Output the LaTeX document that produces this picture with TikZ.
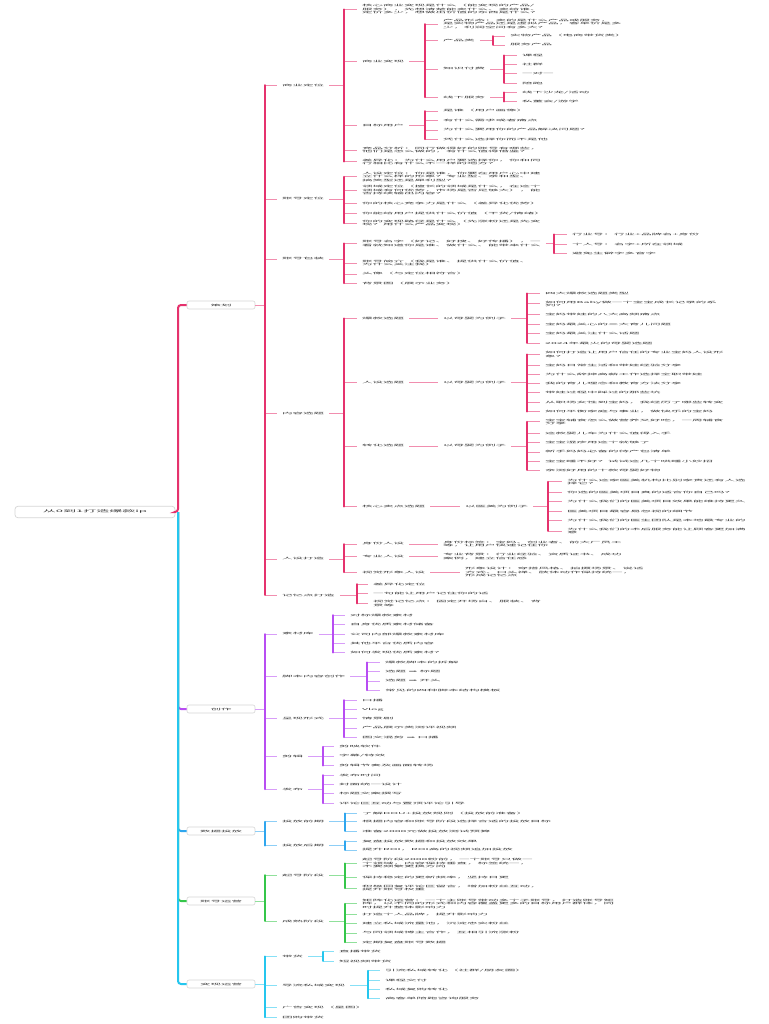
\documentclass[tikz,border=0pt]{standalone}
\usepackage{fontspec}
\newfontfamily\cjk{Noto Sans CJK SC}
\newfontfamily\symf{DejaVu Sans}
\definecolor{txtc}{HTML}{333333}
\definecolor{pk}{HTML}{E5326D}
\definecolor{pu}{HTML}{B84DF2}
\definecolor{bl}{HTML}{2FA6EE}
\definecolor{gr}{HTML}{35C64A}
\definecolor{cy}{HTML}{25C6EE}
\definecolor{boxc}{HTML}{D6D6D6}
\newcommand\mmkids[6]{%
  \coordinate (#1bar) at (#2,0);
  \draw[#3link] (#1.east) -- (#1bar |- #1.east);
  \foreach \kk in {#6}{\draw[#3link] (#1bar |- \kk.west) -- (\kk.west);}
  \draw[#3bar] (#1bar |- #4.west) -- (#1bar |- #5.west);
}
\tikzset{
  every node/.style={transform shape},
  txt/.style={anchor=west, inner xsep=5pt, inner ysep=3pt, align=left, text=txtc, font=\cjk\fontsize{10.5}{13.5}\selectfont},
  l1/.style={draw=boxc, line width=0.6pt, fill=white, rounded corners=2pt, minimum width=68pt, minimum height=32pt, inner sep=0pt, text=txtc, font=\cjk\fontsize{10.5}{13.5}\selectfont},
  rootbox/.style={draw=boxc, line width=0.7pt, fill=white, rounded corners=3pt, minimum width=160pt, minimum height=46pt, inner sep=0pt, text=txtc, font=\cjk\fontsize{13}{16}\selectfont},
  plink/.style={draw=pk!55, line width=0.8pt},
  pbar/.style={draw=pk, line width=1.5pt, line cap=round},
  ulink/.style={draw=pu!55, line width=0.8pt},
  ubar/.style={draw=pu, line width=1.5pt, line cap=round},
  blink/.style={draw=bl!55, line width=0.8pt},
  bbar/.style={draw=bl, line width=1.5pt, line cap=round},
  glink/.style={draw=gr!55, line width=0.8pt},
  gbar/.style={draw=gr, line width=1.5pt, line cap=round},
  clink/.style={draw=cy!55, line width=0.8pt},
  cbar/.style={draw=cy, line width=1.5pt, line cap=round},
  trunkline/.style={line width=2pt, rounded corners=3pt},
}
\begin{document}
\begin{tikzpicture}[x=1pt,y=-4pt,yscale=0.25]
\useasboundingbox (0,0) rectangle (768,1024);
\fill[white] (0,0) rectangle (768,1024);

% ---------- root and level 1
\node[rootbox] (root) at (95,512) {从0到1打造爆款ip};
\node[l1] (ch) at (221,305) {策划};
\node[l1] (cz) at (221,709) {创作};
\node[l1] (sj) at (221,831) {数据投放};
\node[l1] (zy) at (221,901) {账号运营};
\node[l1] (bxy) at (221,984) {变现运营};

% ---------- 策划
\node[txt] (sy) at (277,85) {商业定位};
\node[txt] (zd) at (277,199) {账号定位};
\node[txt] (zb) at (277,259) {账号包装};
\node[txt] (nr) at (277,413.3) {内容选题};
\node[txt] (rs) at (277,559) {人设打造};
\node[txt] (jy) at (277,595) {记忆点打造};

% 商业定位
\node[txt] (sy1) at (357,9.3) {核心商业变现是什么（能变现的产品/\\服务），先想清楚能卖什么、卖给谁、\\定价多少，想做出价值的东西是什么？};
\node[txt] (sy2) at (357,61.7) {商业变现};
\node[txt] (sy3) at (357,125.7) {目标用户};
\node[txt] (sy4) at (357,150) {竞品分析：同行做得好的账号有哪些，\\他们是怎么做的，有什么值得借鉴？};
\node[txt] (sy5) at (357,161.7) {差异化：为什么用户要选择你，你和同\\行相比有什么不一样的地方？};

% 商业变现
\node[txt] (sb1) at (438,24) {产品形态：卖的是什么产品或服务，\\是实物产品还是虚拟产品，客单价是多\\少，利润空间有多大？};
\node[txt] (sb2) at (438,40.7) {产品类};
\node[txt] (sb3) at (438,69) {知识付费};
\node[txt] (sb4) at (438,97.3) {线下服务};
\node[txt] (sb2a) at (505,36) {实物产品（电商带货类）};
\node[txt] (sb2b) at (505,45) {服务产品};
\node[txt] (sb3a) at (517,55.3) {课程};
\node[txt] (sb3b) at (517,64.3) {社群};
\node[txt] (sb3c) at (517,73.7) {一对一};
\node[txt] (sb3d) at (517,83) {陪跑};
\node[txt] (sb4a) at (517,92.3) {线下沙龙/活动};
\node[txt] (sb4b) at (517,101.7) {私董会/游学};

% 目标用户
\node[txt] (mu1) at (438,111) {是谁（用户画像）};
\node[txt] (mu2) at (438,120.7) {有什么需求或者痛点};
\node[txt] (mu3) at (438,130) {为什么要用你的产品解决问题？};
\node[txt] (mu4) at (438,139.3) {凭什么选择你而不是他};

% 账号定位
\node[txt] (zd1) at (357,176.7) {人设定位：你是谁，你要在用户心中建\\立什么样的形象？专业型、亲和型、\\搞笑型还是犀利型？};
\node[txt] (zd2) at (357,190) {领域定位（擅长的领域是什么，在这个\\领域有何优势，市场是否足够大），能\\否持续输出内容？};
\node[txt] (zd3) at (357,203.3) {你的核心竞争力是什么（差异化优势）};
\node[txt] (zd4) at (357,213.3) {你能给用户提供什么价值（干货/情绪）};
\node[txt] (zd5) at (357,223.3) {你的变现路径是什么（先涨粉还是先变\\现？用什么产品变现）};

% 账号包装
\node[txt] (zb1) at (357,243.3) {账号名字（好记、好搜、好传播），一\\看就知道你是谁、做什么、能带来什么};
\node[txt] (zb2) at (357,263.3) {账号简介（我是谁、提供什么价值、\\为什么关注我）};
\node[txt] (zb3) at (357,274) {头像（与定位相符合）};
\node[txt] (zb4) at (357,283.3) {背景图（展示业务）};
\node[txt] (zb1a) at (567,234.3) {行业号：行业+品牌名+身份};
\node[txt] (zb1b) at (567,244) {个人号：名字+所在领域};
\node[txt] (zb1c) at (567,253.3) {避免生僻字多音字};

% 内容选题
\node[txt] (nr1) at (357,318.3) {爆款选题};
\node[txt] (nr2) at (357,382.3) {人设选题};
\node[txt] (nr3) at (357,446) {转化选题};
\node[txt] (nr4) at (357,506.7) {核心卖点选题};
\node[txt] (ex1) at (438,318.3) {以母婴为例子};
\node[txt] (ex2) at (438,382.3) {以母婴为例子};
\node[txt] (ex3) at (438,446) {以母婴为例子};
\node[txt] (ex4) at (460,506.7) {以医美为例子};

\node[txt] (e1a) at (540,293.3) {四大爆款选题类型};
\node[txt] (e1b) at (540,303.7) {如何用Baby做一个宝宝成长记录的系\\列？};
\node[txt] (e1c) at (540,314) {宝妈带娃的八大高频痛点};
\node[txt] (e1d) at (540,324.3) {宝妈最关心的三大育儿问题};
\node[txt] (e1e) at (540,333.7) {宝妈最关注什么话题};
\node[txt] (e1f) at (540,343) {2024年最火的母婴选题};

\node[txt] (e2a) at (540,354.3) {如何打造让用户信任的专业宝妈人设形\\象？};
\node[txt] (e2b) at (540,365) {宝妈日常生活和带娃经验分享};
\node[txt] (e2c) at (540,374.3) {为什么辞掉高薪工作选择全职带娃};
\node[txt] (e2d) at (540,383.3) {我的育儿理念和教育方法分享};
\node[txt] (e2e) at (540,392.7) {带娃过程中踩过的那些坑};
\node[txt] (e2f) at (540,402.3) {从职场女性到宝妈，我经历了哪些转变};
\node[txt] (e2g) at (540,411.7) {如何平衡家庭与事业，做快乐的宝妈};

\node[txt] (e3a) at (540,421.7) {宝宝辅食怎么做营养又好吃，一周辅食\\分享};
\node[txt] (e3b) at (540,433.3) {这款婴儿车为什么值得入手};
\node[txt] (e3c) at (540,442.7) {宝宝湿疹用这个就够了};
\node[txt] (e3d) at (540,452) {新手妈妈必备的待产包清单};
\node[txt] (e3e) at (540,461) {宝宝睡不好？试试这几个哄睡小妙招};
\node[txt] (e3f) at (540,470) {亲测好用的十款母婴好物};

\node[txt] (e4a) at (562,481.7) {为什么这家医美机构比别家贵还有人选\\择它？};
\node[txt] (e4b) at (562,492.3) {你选的医美项目真的适合你自己吗？};
\node[txt] (e4c) at (562,501.7) {为什么我们的医美项目效果能维持更久};
\node[txt] (e4d) at (562,511) {医美项目最容易忽视的细节};
\node[txt] (e4e) at (562,520) {为什么我们的医生团队是本地最专业的};
\node[txt] (e4f) at (562,531) {为什么我们的术后服务能让顾客更加满\\意};

% 人设打造
\node[txt] (rs1) at (357,544) {身份人设};
\node[txt] (rs2) at (357,556.7) {专业人设};
\node[txt] (rs3) at (357,572.3) {视觉形象人设};
\node[txt] (rs1a) at (438,544) {身份标签：宝妈、创业者、前大厂员工\\等，让用户快速记住你};
\node[txt] (rs2a) at (438,556.7) {专业背景：行业经验、资质证书、成功\\案例，建立信任感};
\node[txt] (rs3a) at (460,572.3) {形象设计：穿搭风格、拍摄场景、说话\\方式、口头禅、肢体动作保持统一，\\形成记忆点};

% 记忆点打造
\node[txt] (jy1) at (368,584) {差异化定位};
\node[txt] (jy2) at (368,593.3) {一句能让用户记住你的话};
\node[txt] (jy3) at (368,603.5) {视觉记忆点：固定开场白、服装、背\\景等};

% ---------- 创作
\node[txt] (c1) at (277,634) {素材库};
\node[txt] (c2) at (277,676.7) {脚本内容创作};
\node[txt] (c3) at (277,718.3) {呈现形式};
\node[txt] (c4) at (277,756.7) {剪辑};
\node[txt] (c5) at (277,789.3) {发布};

\node[txt] (c1a) at (345,615) {对标爆款素材};
\node[txt] (c1b) at (345,624.3) {自身优质素材储备};
\node[txt] (c1c) at (345,634) {公司内部爆款素材库};
\node[txt] (c1d) at (345,643.3) {其他平台优质内容};
\node[txt] (c1e) at (345,652.7) {如何发现优质素材？};

\node[txt] (c2a) at (380,662.3) {爆款脚本的拆解};
\node[txt] (c2b) at (380,671.7) {选题 {\symf ➡} 标题};
\node[txt] (c2c) at (380,681) {选题 {\symf ➡} 开头};
\node[txt] (c2d) at (380,690.3) {常见的四种脚本结构模板};

\node[txt] (c3a) at (357,700) {口播};
\node[txt] (c3b) at (357,709.3) {Vlog};
\node[txt] (c3c) at (357,718.3) {情景剧};
\node[txt] (c3d) at (357,728) {产品展示类测评视频};
\node[txt] (c3e) at (357,737.3) {图文混剪 {\symf ➡} 口播};

\node[txt] (c4a) at (334,746.7) {剪映软件};
\node[txt] (c4b) at (334,756) {字幕/特效};
\node[txt] (c4c) at (334,765.7) {剪辑节奏及画面转场};

\node[txt] (c5a) at (334,775) {发布时间};
\node[txt] (c5b) at (334,784.3) {封面统一设计};
\node[txt] (c5c) at (334,793.7) {标题文案撰写};
\node[txt] (c5d) at (334,803.3) {评论区互动与置顶评论引导};

% ---------- 数据投放
\node[txt] (s1) at (277,821.7) {投放前期};
\node[txt] (s2) at (277,845.7) {投放后期};
\node[txt] (s1a) at (357,813.3) {了解DOU+投放规则（投放前准备）};
\node[txt] (s1b) at (357,821.7) {根据内容和账号阶段选择合适的投放目标};
\node[txt] (s1c) at (357,831) {准备2000元做投放测试预算};
\node[txt] (s2a) at (357,841) {复盘投放数据和投放效果};
\node[txt] (s2b) at (357,850) {提升ROI，ROI高的视频追加投放};

% ---------- 账号运营
\node[txt] (z1) at (277,875) {起号阶段};
\node[txt] (z2) at (277,921) {成熟阶段};
\node[txt] (z1a) at (357,863.3) {起号阶段2000粉前，一个账号只做一\\个领域，内容保持垂直，标签统一，\\不要频繁更换方向};
\node[txt] (z1b) at (357,877.7) {保持稳定的更新频率，坚持日更};
\node[txt] (z1c) at (357,888.3) {积极回复评论区留言，增加粉丝互动，\\提升账号权重};
\node[txt] (z2a) at (357,903.7) {矩阵化运营：一个主账号带动多个子账号，打造账号矩\\阵，以不同的形式和内容覆盖更多的目标用户群体，同\\时提升整体影响力};
\node[txt] (z2b) at (357,914.3) {打造个人品牌，提升影响力};
\node[txt] (z2c) at (357,923.7) {建立私域流量池，沉淀忠实粉丝};
\node[txt] (z2d) at (357,933) {与同领域博主合作，互相引流涨粉};
\node[txt] (z2e) at (357,942.3) {定期复盘账号数据};

% ---------- 变现运营
\node[txt] (v1) at (277,956.3) {带货};
\node[txt] (v2) at (277,985) {导流私域变现};
\node[txt] (v3) at (277,1007.7) {广告变现（星图）};
\node[txt] (v4) at (277,1017.3) {团购带货};
\node[txt] (v1a) at (334,951.7) {直播带货};
\node[txt] (v1b) at (334,961) {短视频带货};
\node[txt] (v2a) at (380,970.7) {引流私域转化（社群/朋友圈）};
\node[txt] (v2b) at (380,980) {课程交付};
\node[txt] (v2c) at (380,989) {私域复购转化};
\node[txt] (v2d) at (380,998.3) {高客单陪跑咨询服务};

% ---------- trunk
\coordinate (tr) at (178,0);
\draw[trunkline, draw=pk] (root.east) -- (tr |- root.east) -- (tr |- ch.west) -- (ch.west);
\draw[trunkline, draw=pu] (tr |- root.east) -- (tr |- cz.west) -- (cz.west);
\draw[trunkline, draw=bl] (tr |- root.east) -- (tr |- sj.west) -- (sj.west);
\draw[trunkline, draw=gr] (tr |- root.east) -- (tr |- zy.west) -- (zy.west);
\draw[trunkline, draw=cy] (tr |- root.east) -- (tr |- bxy.west) -- (bxy.west);

% ---------- connectors 策划
\mmkids{ch}{265}{p}{sy}{jy}{sy,zd,zb,nr,rs,jy}
\mmkids{sy}{344}{p}{sy1}{sy5}{sy1,sy2,sy3,sy4,sy5}
\mmkids{sy2}{425}{p}{sb1}{sb4}{sb1,sb2,sb3,sb4}
\mmkids{sb2}{493}{p}{sb2a}{sb2b}{sb2a,sb2b}
\mmkids{sb3}{504}{p}{sb3a}{sb3d}{sb3a,sb3b,sb3c,sb3d}
\mmkids{sb4}{504}{p}{sb4a}{sb4b}{sb4a,sb4b}
\mmkids{sy3}{425}{p}{mu1}{mu4}{mu1,mu2,mu3,mu4}
\mmkids{zd}{344}{p}{zd1}{zd5}{zd1,zd2,zd3,zd4,zd5}
\mmkids{zb}{344}{p}{zb1}{zb4}{zb1,zb2,zb3,zb4}
\mmkids{zb1}{554}{p}{zb1a}{zb1c}{zb1a,zb1b,zb1c}
\mmkids{nr}{344}{p}{nr1}{nr4}{nr1,nr2,nr3,nr4}
\draw[plink] (nr1.east) -- (ex1.west);
\draw[plink] (nr2.east) -- (ex2.west);
\draw[plink] (nr3.east) -- (ex3.west);
\draw[plink] (nr4.east) -- (ex4.west);
\mmkids{ex1}{527}{p}{e1a}{e1f}{e1a,e1b,e1c,e1d,e1e,e1f}
\mmkids{ex2}{527}{p}{e2a}{e2g}{e2a,e2b,e2c,e2d,e2e,e2f,e2g}
\mmkids{ex3}{527}{p}{e3a}{e3f}{e3a,e3b,e3c,e3d,e3e,e3f}
\mmkids{ex4}{548}{p}{e4a}{e4f}{e4a,e4b,e4c,e4d,e4e,e4f}
\mmkids{rs}{344}{p}{rs1}{rs3}{rs1,rs2,rs3}
\draw[plink] (rs1.east) -- (rs1a.west);
\draw[plink] (rs2.east) -- (rs2a.west);
\draw[plink] (rs3.east) -- (rs3a.west);
\mmkids{jy}{357}{p}{jy1}{jy3}{jy1,jy2,jy3}

% ---------- connectors 创作
\mmkids{cz}{265}{u}{c1}{c5}{c1,c2,c3,c4,c5}
\mmkids{c1}{333}{u}{c1a}{c1e}{c1a,c1b,c1c,c1d,c1e}
\mmkids{c2}{367}{u}{c2a}{c2d}{c2a,c2b,c2c,c2d}
\mmkids{c3}{344}{u}{c3a}{c3e}{c3a,c3b,c3c,c3d,c3e}
\mmkids{c4}{323}{u}{c4a}{c4c}{c4a,c4b,c4c}
\mmkids{c5}{323}{u}{c5a}{c5d}{c5a,c5b,c5c,c5d}

% ---------- connectors 数据投放
\mmkids{sj}{265}{b}{s1}{s2}{s1,s2}
\mmkids{s1}{345}{b}{s1a}{s1c}{s1a,s1b,s1c}
\mmkids{s2}{345}{b}{s2a}{s2b}{s2a,s2b}

% ---------- connectors 账号运营
\mmkids{zy}{265}{g}{z1}{z2}{z1,z2}
\mmkids{z1}{345}{g}{z1a}{z1c}{z1a,z1b,z1c}
\mmkids{z2}{345}{g}{z2a}{z2e}{z2a,z2b,z2c,z2d,z2e}

% ---------- connectors 变现运营
\mmkids{bxy}{265}{c}{v1}{v4}{v1,v2,v3,v4}
\mmkids{v1}{323}{c}{v1a}{v1b}{v1a,v1b}
\mmkids{v2}{368}{c}{v2a}{v2d}{v2a,v2b,v2c,v2d}
\end{tikzpicture}
\end{document}
